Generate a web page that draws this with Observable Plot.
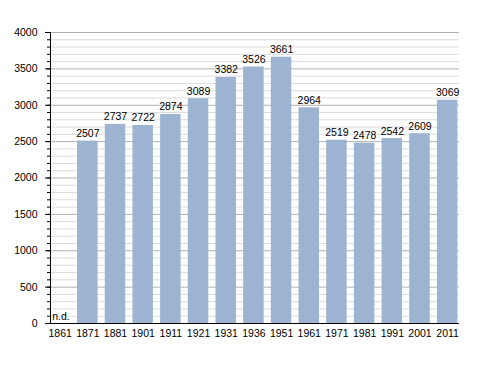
<!DOCTYPE html>
<html>
<head>
<meta charset="utf-8">
<script src="https://cdn.jsdelivr.net/npm/d3@7"></script>
<script src="https://cdn.jsdelivr.net/npm/@observablehq/plot@0.6"></script>
<style>
  html, body { margin: 0; padding: 0; background: #fff; }
  svg { display: block; }
</style>
</head>
<body>
<div id="chart"></div>
<script>
const years = ["1861","1871","1881","1901","1911","1921","1931","1936","1951","1961","1971","1981","1991","2001","2011"];
const population = [null,2507,2737,2722,2874,3089,3382,3526,3661,2964,2519,2478,2542,2609,3069];
const majorTicks = [0,500,1000,1500,2000,2500,3000,3500,4000];
const minorTicks = d3.range(0, 4001, 100);

const data = years.map((y, i) => ({year: y, value: population[i]}));
const present = data.filter(d => d.value != null);
const missing = data.filter(d => d.value == null);

const font = "'Liberation Sans', Arial, sans-serif";

const chart = Plot.plot({
  width: 488,
  height: 373,
  marginLeft: 50,
  marginRight: 29,
  marginTop: 32,
  marginBottom: 50,
  style: {fontFamily: font, fontSize: "10.5px", color: "#000", background: "#fff"},
  x: {domain: years, range: [45.8, 461], round: false, paddingInner: 0.26, paddingOuter: 0.13, label: null},
  y: {domain: [0, 4000], label: null},
  marks: [
    Plot.ruleY(minorTicks.filter(t => t % 500 !== 0), {stroke: "#dcdcdc", strokeWidth: 1}),
    Plot.ruleY(majorTicks, {stroke: "#b0b0b0", strokeWidth: 1}),
    Plot.barY(present, {x: "year", y: "value", fill: "#9cb4d1"}),
    Plot.text(present, {x: "year", y: "value", text: d => String(d.value), lineAnchor: "bottom", dy: -4, fontSize: 10.5, fill: "#000"}),
    Plot.text(missing, {x: "year", y: () => 0, text: () => "n.d.", textAnchor: "start", lineAnchor: "bottom", dx: -8, dy: -4, fontSize: 10.5, fill: "#000"}),
    Plot.axisY({ticks: minorTicks, tickSize: 3, tickFormat: () => "", stroke: "#000"}),
    Plot.axisY({ticks: majorTicks, tickSize: 5, tickPadding: 8, tickFormat: d => String(d), stroke: "#000", fontSize: 10.5}),
    Plot.axisX({tickSize: 0, tickPadding: 6, fontSize: 10.5}),
    Plot.frame({anchor: "left", stroke: "#000"}),
    Plot.ruleY([0], {stroke: "#000"})
  ]
});
document.getElementById("chart").appendChild(chart);
</script>
</body>
</html>
